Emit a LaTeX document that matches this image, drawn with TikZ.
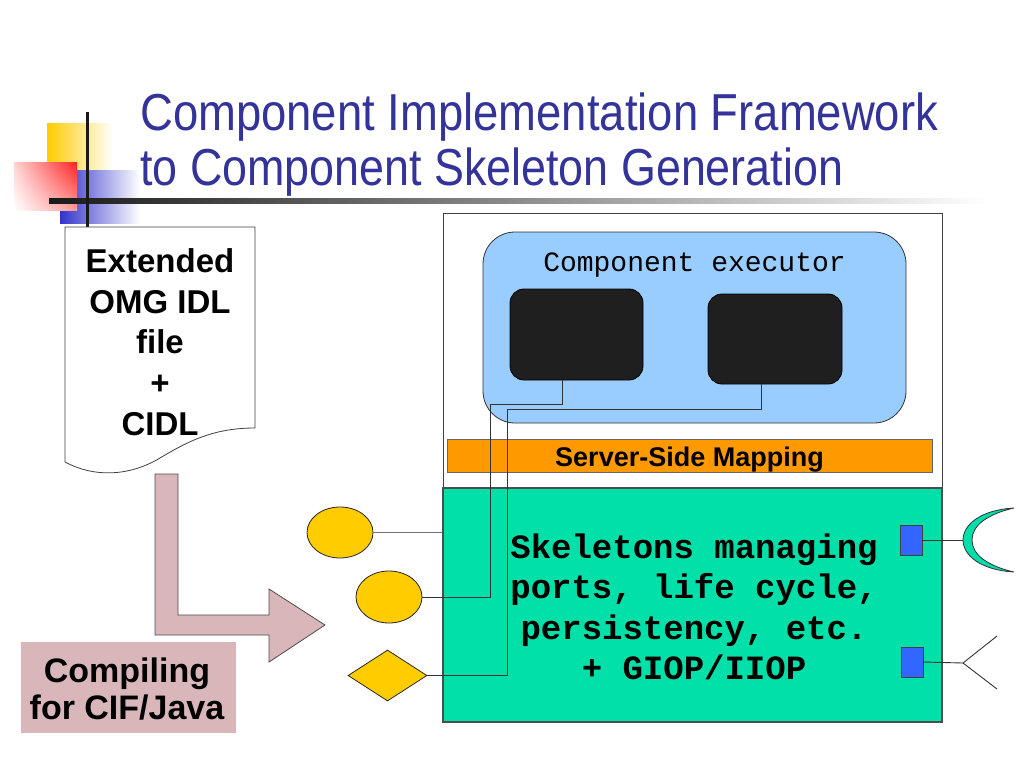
\documentclass[tikz,border=0pt]{standalone}
\usepackage{fontspec}
\setmainfont{Liberation Sans}
\setmonofont{Liberation Mono}
\usetikzlibrary{shapes.geometric,shadings}
\definecolor{titleblue}{HTML}{333399}
\definecolor{yel}{HTML}{FFCC00}
\definecolor{decored}{HTML}{FF2020}
\definecolor{decoblue}{HTML}{3333CC}
\definecolor{pinkc}{HTML}{D9B6B9}
\definecolor{execblue}{HTML}{99CCFF}
\definecolor{orangec}{HTML}{FF9900}
\definecolor{greenc}{HTML}{00E0A8}
\definecolor{portblue}{HTML}{3366FF}
\definecolor{linec}{HTML}{333333}
\begin{document}
\begin{tikzpicture}[x=1pt,y=-1pt,
  bigtext/.style={font=\fontsize{33pt}{40.7pt}\selectfont\bfseries, align=center, inner sep=0pt},
  blk/.style={fill=black!88, draw=black, line width=0.8pt, rounded corners=14pt, inner sep=0pt},
  yelshape/.style={fill=yel, draw=black!85, line width=0.8pt, inner sep=0pt},
  portbox/.style={fill=portblue, draw=black!75, line width=0.8pt, minimum width=22pt, minimum height=30pt, inner sep=0pt},
  wire/.style={draw=linec, line width=0.9pt}]
\useasboundingbox (0,0) rectangle (1024,768);
\fill[white] (0,0) rectangle (1024,768);

% decoration
\shade[left color=yel, middle color=yel, right color=white] (47,123) rectangle (113,170);
\shade[left color=decoblue, middle color=decoblue, right color=white] (60,170) rectangle (140,223);
\shade[upper right=decored, upper left=decored!20, lower right=decored!45, lower left=white] (14,162) rectangle (77,210);
\shade[left color=black!90, middle color=black!50, right color=white] (49,198) rectangle (990,203);
\draw[line width=3pt, black!90] (87,112) -- (87,227);

% title
\node[anchor=base west, text=titleblue, inner sep=0pt] (t1) at (140,130)
  {\resizebox{798pt}{\height}{\fontsize{52pt}{60pt}\selectfont Component Implementation Framework}};
\node[anchor=base west, text=titleblue, inner sep=0pt] (t2) at (140,185)
  {\resizebox{703pt}{\height}{\fontsize{52pt}{60pt}\selectfont to Component Skeleton Generation}};

% document shape
\draw[line width=0.8pt, draw=black!75, fill=white] (65,227) -- (255,227) -- (255,428)
  .. controls (215,428) and (190,440) .. (160,458)
  .. controls (130,476) and (95,478) .. (65,462) -- cycle;
\node[bigtext] (doc) at (160,342) {Extended\\OMG IDL\\file\\+\\CIDL};

% L arrow
\draw[fill=pinkc, draw=black!70, line width=0.8pt] (155,474) -- (178,474) -- (178,615) -- (269,615)
  -- (269,589) -- (325,625) -- (269,662) -- (269,635) -- (155,635) -- cycle;

% compiling box
\node[fill=pinkc, minimum width=215pt, minimum height=91pt, inner sep=0pt] (comp) at (128.5,687.5) {};
\node[font=\fontsize{34pt}{37pt}\selectfont\bfseries, align=center, inner sep=0pt] (comptext) at (127,689) {Compiling\\for CIF/Java};

% outer box
\node[draw=black!75, line width=0.8pt, minimum width=499pt, minimum height=509pt, inner sep=0pt] (outer) at (692.5,467.5) {};

% executor
\node[fill=execblue, draw=black!80, line width=0.8pt, rounded corners=32pt, minimum width=423pt, minimum height=191pt, inner sep=0pt] (exec) at (694.5,327.5) {};
\node[anchor=base, font=\fontsize{28pt}{28pt}\selectfont\ttfamily, inner sep=0pt] (execlabel) at (694.5,271) {Component executor};
\node[blk, minimum width=133pt, minimum height=91pt] (b1) at (576.5,334.5) {};
\node[blk, minimum width=134pt, minimum height=90pt] (b2) at (775,339) {};

% server side mapping
\node[fill=orangec, draw=black!60, line width=0.5pt, minimum width=485pt, minimum height=33pt, inner sep=0pt] (ssm) at (689.5,455.5) {};
\node[anchor=base, font=\fontsize{27pt}{27pt}\selectfont\bfseries, inner sep=0pt] (ssmtext) at (689.5,466) {Server-Side Mapping};

% skeleton box
\node[fill=greenc, draw=black!70, line width=1.5pt, minimum width=499pt, minimum height=234pt, inner sep=0pt] (skel) at (692.5,605) {};
\node[font=\fontsize{34pt}{40.5pt}\selectfont\ttfamily\bfseries, align=center, inner sep=0pt] (skeltext) at (694,607)
  {Skeletons managing\\ports, life cycle,\\persistency, etc.\\+ GIOP/IIOP};

% ports left
\node[yelshape, ellipse, minimum width=66pt, minimum height=51pt] (c1) at (340,532.5) {};
\node[yelshape, ellipse, minimum width=66pt, minimum height=52pt] (c2) at (389,597) {};
\node[yelshape, diamond, minimum width=79pt, minimum height=51pt] (d) at (387.5,675.5) {};

% ports right
\node[portbox] (p1) at (911,540) {};
\node[portbox] (p2) at (912,662) {};
\coordinate (cr) at (963,540);
\coordinate (fk) at (963,663);
\coordinate (fka) at (997,636);
\coordinate (fkb) at (997,689);
\draw[fill=greenc, draw=black!80, line width=0.8pt] (1014,508) .. controls (980,510) and (963,525) .. (cr)
  .. controls (963,555) and (980,570) .. (1014,572)
  .. controls (988,566) and (972,555) .. (972,540)
  .. controls (972,525) and (988,514) .. (1014,508) -- cycle;

% wires
\draw[wire, draw=black!55] (c1.east) -- (c1.east -| skel.west);
\draw[wire] (c2.east) -| (490,404) -| ([xshift=-14.5pt]b1.south);
\draw[wire] (d.east) -| (507,409) -| ([xshift=-14pt]b2.south);
\draw[wire] (p1.east) -- (cr);
\draw[wire] (p2.east) -- (fk);
\draw[wire] (fka) -- (fk) -- (fkb);
\end{tikzpicture}
\end{document}
